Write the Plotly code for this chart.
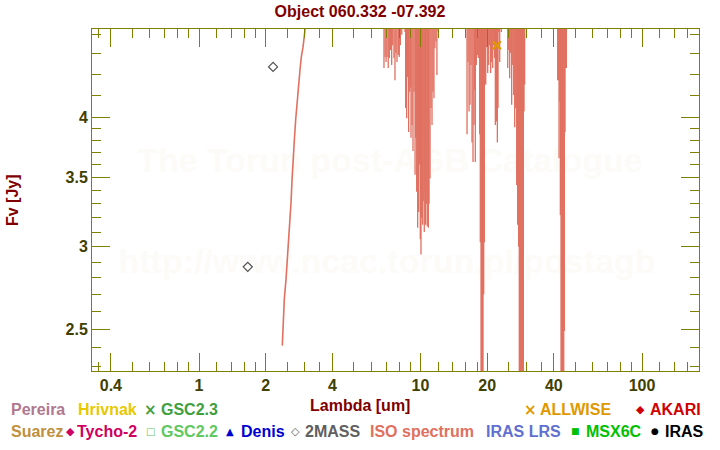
import plotly.graph_objects as go

# ---------------- data ----------------
twomass_wave = [1.66, 2.16]
twomass_flux = [2.87, 4.47]

allwise_wave = [22.1]
allwise_flux = [4.69]

# ISO spectrum, rising continuum part (Jy)
iso_rise_wave = [2.377, 2.40, 2.427, 2.47, 2.505, 2.541, 2.576, 2.603, 2.63, 2.657,
                 2.694, 2.733, 2.77, 2.819, 2.857, 2.897, 2.948, 3.00, 3.04, 3.10]
iso_rise_flux = [2.41, 2.55, 2.67, 2.79, 2.91, 3.03, 3.16, 3.31, 3.48, 3.66,
                 3.80, 3.98, 4.13, 4.28, 4.44, 4.57, 4.67, 4.82, 5.00, 6.00]

# ISO spectrum, minima of the noisy segments hanging from off-scale flux
iso_dip_wave = [
    6.84, 6.92, 6.99, 7.06, 7.15, 7.23, 7.31, 7.41, 7.49, 7.59, 7.67, 7.75, 7.83, 7.94,
    8.02, 8.11, 8.23, 8.51, 8.57, 8.66, 8.75, 8.84, 8.94, 9.03, 9.06, 9.16, 9.25, 9.35,
    9.45, 9.51, 9.61, 9.71, 9.81, 9.88, 9.98, 10.05, 10.12, 10.23, 10.29, 10.40, 10.48,
    10.55, 10.67, 10.73, 10.85, 10.93, 11.04, 11.15, 11.27, 11.38, 11.50, 11.62, 11.74,
    11.86, 12.03,
    16.22, 16.39, 16.56, 16.73, 16.90, 17.08, 17.26, 17.44, 17.56, 17.68, 17.86, 18.05,
    18.24, 18.50, 18.62, 18.76, 18.89, 19.02, 19.15, 19.29, 19.42, 19.56, 19.70, 19.90,
    20.11, 20.32, 20.53, 20.74, 20.96, 21.18, 21.40, 21.62, 21.77, 22.00, 22.23, 22.39,
    22.55, 22.78, 23.17,
    24.76, 25.01, 25.27, 25.54, 25.80, 26.08, 26.35, 26.62, 26.90, 27.18, 27.45, 27.74,
    27.93, 28.12, 28.32, 28.51, 28.71, 28.91, 29.12, 29.33, 29.53,
    41.64, 41.90, 42.21, 42.51, 42.79, 43.09, 43.41, 43.69, 44.00, 44.33, 44.60, 44.93,
    45.25, 45.54,
]
iso_dip_flux = [
    4.46, 4.57, 4.52, 4.57, 4.46, 4.56, 4.64, 4.49, 4.69, 4.56, 4.34, 4.61, 4.52, 4.59,
    4.57, 4.69, 4.80, 4.83, 4.08, 3.99, 4.37, 3.87, 4.23, 4.27, 3.82, 3.93, 3.71, 4.23,
    3.52, 3.82, 3.39, 3.13, 3.24, 3.60, 3.05, 2.95, 3.20, 3.15, 3.32, 3.10, 3.40,
    3.15, 3.30, 3.14, 3.13, 3.30, 3.49, 4.08, 3.93, 4.23, 4.17, 4.66, 4.73,
    4.39, 4.83,
    3.85, 4.52, 4.05, 4.11, 4.49, 3.78, 3.62, 3.93, 4.25, 3.62, 4.49, 4.59,
    4.56, 3.85, 3.03, 2.00, 2.00, 2.00, 2.00, 2.70, 3.03, 4.30, 4.30, 4.67,
    4.41, 4.49, 4.69, 4.41, 4.52, 4.46, 4.69, 4.56, 3.93, 3.96, 3.78, 4.08,
    4.83, 4.52, 4.83,
    4.46, 4.64, 4.36, 4.61, 4.11, 4.49, 4.20, 3.91, 4.08, 3.44, 3.15, 3.00,
    2.00, 2.00, 2.00, 2.00, 2.00, 2.00, 2.00, 4.05, 4.30,
    4.34, 4.34, 3.65, 4.14, 3.22, 2.00, 2.00, 2.00, 2.00, 2.00, 2.49, 3.87,
    4.46, 4.46,
]
ISO_OFFSCALE = 8.0

x_major_ticks = [0.4, 1, 2, 4, 10, 20, 40, 100]
x_major_labels = ["0.4", "1", "2", "4", "10", "20", "40", "100"]
x_minor_ticks = [0.35, 0.5, 0.6, 0.7, 0.8, 0.9, 1.2, 1.4, 1.6, 1.8, 2.5, 3, 3.5,
                 5, 6, 7, 8, 9, 12, 14, 16, 18, 25, 30, 35, 50, 60, 70, 80, 90,
                 120, 140, 160]
y_major_ticks = [2.5, 3, 3.5, 4]
y_major_labels = ["2.5", "3", "3.5", "4"]
y_minor_ticks = [2.3, 2.4, 2.6, 2.7, 2.8, 2.9, 3.1, 3.2, 3.3, 3.4, 3.6, 3.7, 3.8,
                 3.9, 4.2, 4.4, 4.6, 4.8]

legend_items = [
    # label, colour, glyph
    ("Pereira", "#b07890", None),
    ("Hrivnak", "#e8c800", None),
    ("GSC2.3", "#40a040", "×"),
    ("ALLWISE", "#e09800", "×"),
    ("AKARI", "#d00000", "◆"),
    ("Suarez", "#c09040", None),
    ("Tycho-2", "#d00060", "◆"),
    ("GSC2.2", "#60c860", "□"),
    ("Denis", "#0000d0", "▲"),
    ("2MASS", "#606060", "◇"),
    ("ISO spectrum", "#e07060", None),
    ("IRAS LRS", "#6070d0", None),
    ("MSX6C", "#00c000", "■"),
    ("IRAS", "#000000", "●"),
]
# layout positions of legend entries (pixels): glyph x, text x, row y
legend_pos = [
    (None, 9, 410), (None, 76, 410), (150.5, 159, 410), (530.5, 538, 410), (640.5, 648, 410),
    (None, 9, 431), (70, 75, 431), (150.5, 159, 431), (230, 239, 431), (295.5, 303, 431),
    (None, 368, 431), (None, 484, 431), (575.5, 584, 431), (655, 663, 431),
]
glyph_size = {"×": 15, "◆": 11, "□": 10, "▲": 10, "◇": 11, "■": 9, "●": 9}

# ---------------- layout geometry ----------------
W, H = 720, 450
PL, PR, PT, PB = 92, 699, 29, 371
X_RANGE = [-0.4831, 2.2573]
Y_RANGE = [0.3576, 0.6868]

OLIVE = "#808000"
TICKTXT = "#404000"
DARKRED = "#800000"
ISO_COLOR = "#e07060"
FONT = "Liberation Sans"


def fx(px):
    return (px - PL) / (PR - PL)


def fy(py):
    return (PB - py) / (PB - PT)


def frac_to_data(x_frac, y_frac):
    return (10 ** (X_RANGE[0] + x_frac * (X_RANGE[1] - X_RANGE[0])),
            10 ** (Y_RANGE[0] + y_frac * (Y_RANGE[1] - Y_RANGE[0])))


fig = go.Figure()

# watermark (drawn first, beneath the data)
wm_text = ["The Torun post-AGB Catalogue", "http://www.ncac.torun.pl/postagb"]
wm_pos = [frac_to_data(fx(390), fy(163)), frac_to_data(fx(387), fy(264))]
fig.add_trace(go.Scatter(
    x=[p[0] for p in wm_pos], y=[p[1] for p in wm_pos], text=wm_text,
    mode="text", textposition="middle center",
    textfont=dict(family=FONT, size=34, color="#fdfbf7", weight="bold"),
    hoverinfo="skip", showlegend=False, cliponaxis=False))

# ISO spectrum: rising part
fig.add_trace(go.Scatter(x=iso_rise_wave, y=iso_rise_flux, mode="lines",
                         line=dict(color=ISO_COLOR, width=1.6),
                         name="ISO spectrum", showlegend=False))

# ISO spectrum: noisy segments
iso_x, iso_y = [], []
for w, f in zip(iso_dip_wave, iso_dip_flux):
    iso_x += [w, w, None]
    iso_y += [ISO_OFFSCALE, f, None]
fig.add_trace(go.Scatter(x=iso_x, y=iso_y, mode="lines", connectgaps=False,
                         line=dict(color=ISO_COLOR, width=1.3),
                         name="ISO spectrum", showlegend=False))

# 2MASS
fig.add_trace(go.Scatter(x=twomass_wave, y=twomass_flux, mode="markers",
                         marker=dict(symbol="diamond-open", size=7,
                                     color="#505050", line=dict(width=1.2, color="#505050")),
                         name="2MASS", showlegend=False))
# ALLWISE
fig.add_trace(go.Scatter(x=allwise_wave, y=allwise_flux, mode="markers",
                         marker=dict(symbol="x-thin-open", size=8,
                                     color="#e09800", line=dict(width=2.4, color="#e09800")),
                         name="ALLWISE", showlegend=False, cliponaxis=False))

axis_common = dict(
    type="log", showgrid=False, zeroline=False,
    showline=True, linecolor=OLIVE, linewidth=1, mirror="ticks",
    ticks="inside", ticklen=18, tickwidth=1, tickcolor=OLIVE,
    tickmode="array",
    tickfont=dict(family=FONT, size=16, color=TICKTXT, weight="bold"),
)
fig.update_xaxes(range=X_RANGE, tickvals=x_major_ticks, ticktext=x_major_labels,
                 minor=dict(tickmode="array", tickvals=x_minor_ticks, ticks="inside",
                            ticklen=9, tickwidth=1, tickcolor=OLIVE, showgrid=False),
                 **axis_common)
fig.update_yaxes(range=Y_RANGE, tickvals=y_major_ticks, ticktext=y_major_labels,
                 minor=dict(tickmode="array", tickvals=y_minor_ticks, ticks="inside",
                            ticklen=9, tickwidth=1, tickcolor=OLIVE, showgrid=False),
                 **axis_common)

annotations = [
    dict(text="Lambda [um]", x=fx(360), y=fy(405), xref="paper", yref="paper",
         xanchor="center", yanchor="middle", showarrow=False,
         font=dict(family=FONT, size=16, color=DARKRED, weight="bold")),
    dict(text="Fv [Jy]", x=fx(12), y=fy(200), xref="paper", yref="paper",
         xanchor="center", yanchor="middle", showarrow=False, textangle=-90,
         font=dict(family=FONT, size=16, color=DARKRED, weight="bold")),
]
for (label, color, glyph), (gx, tx, ry) in zip(legend_items, legend_pos):
    if glyph is not None:
        annotations.append(dict(text=glyph, x=fx(gx), y=fy(ry), xref="paper", yref="paper",
                                xanchor="center", yanchor="middle", showarrow=False,
                                font=dict(family="DejaVu Sans", size=glyph_size[glyph],
                                          color=color, weight="bold")))
    annotations.append(dict(text=label, x=fx(tx), y=fy(ry), xref="paper", yref="paper",
                            xanchor="left", yanchor="middle", showarrow=False,
                            font=dict(family=FONT, size=16, color=color, weight="bold")))

fig.update_layout(
    width=W, height=H,
    margin=dict(l=PL, r=W - PR, t=PT, b=H - PB, autoexpand=False),
    paper_bgcolor="white", plot_bgcolor="white",
    title=dict(text="Object 060.332 -07.392", x=0.5, xref="container",
               y=1 - 11 / H, yref="container", xanchor="center", yanchor="middle",
               font=dict(family=FONT, size=16, color=DARKRED, weight="bold")),
    annotations=annotations,
    showlegend=False,
)

fig.write_html("out.html")
